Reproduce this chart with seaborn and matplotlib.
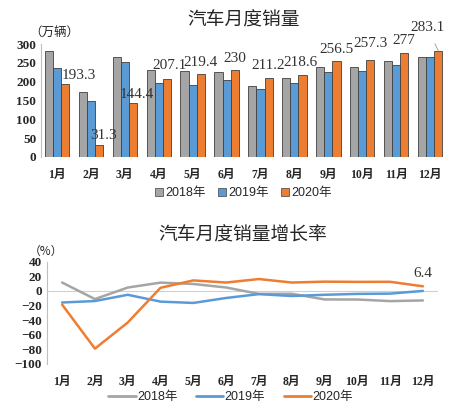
import numpy as np
import pandas as pd
import seaborn as sns
import matplotlib.pyplot as plt
from matplotlib.lines import Line2D
from matplotlib.patches import Patch

months = ['1月', '2月', '3月', '4月', '5月', '6月', '7月', '8月', '9月', '10月', '11月', '12月']
years = ['2018年', '2019年', '2020年']

# monthly sales (10k vehicles)
sales_2018 = [281, 172, 265, 232, 229, 227, 188, 210, 239, 238, 255, 266]
sales_2019 = [237, 148, 252, 198, 191, 206, 181, 196, 227, 229, 245, 265]
sales_2020 = [193.3, 31.3, 144.4, 207.1, 219.4, 230, 211.2, 218.6, 256.5, 257.3, 277, 283.1]
labels_2020 = ['193.3', '31.3', '144.4', '207.1', '219.4', '230', '211.2', '218.6', '256.5', '257.3', '277', '283.1']

# growth rate (%)
growth_2018 = [11.6, -11.1, 4.7, 11.5, 9.6, 4.8, -4.0, -3.8, -11.6, -11.7, -13.9, -13.0]
growth_2019 = [-15.8, -13.8, -5.2, -14.6, -16.4, -9.6, -4.3, -6.9, -5.2, -4.0, -3.6, 0.1]
growth_2020 = [-18.7, -79.1, -43.3, 4.4, 14.5, 11.6, 16.4, 11.6, 12.8, 12.5, 12.6, 6.4]

colors = ['#A5A5A5', '#5B9BD5', '#ED7D31']
palette = dict(zip(years, colors))

sns.set_style('white')
plt.rcParams['font.family'] = ['Liberation Serif', 'Noto Sans CJK SC', 'DejaVu Sans']

sales = pd.DataFrame({
    'month': months * 3,
    'year': np.repeat(years, 12),
    'value': sales_2018 + sales_2019 + sales_2020,
})
growth = pd.DataFrame({
    'month': months * 3,
    'year': np.repeat(years, 12),
    'value': growth_2018 + growth_2019 + growth_2020,
})

fig = plt.figure(figsize=(4.67, 4.13), dpi=100)
ax1 = fig.add_axes([0.088, 0.62, 0.867, 0.273])
ax2 = fig.add_axes([0.1, 0.119, 0.838, 0.247])


def style_axis(ax):
    for s in ['top', 'right', 'bottom']:
        ax.spines[s].set_visible(False)
    ax.spines['left'].set_color('#BFBFBF')
    ax.spines['left'].set_linewidth(0.8)
    ax.set_xlabel('')
    ax.set_ylabel('')
    ax.tick_params(axis='both', length=0)
    ax.tick_params(axis='y', labelsize=9.5)
    ax.tick_params(axis='x', labelsize=8.5, pad=9)
    for t in ax.get_xticklabels() + ax.get_yticklabels():
        t.set_fontweight('bold')


# ---- top: bar chart
sns.barplot(data=sales, x='month', y='value', hue='year', palette=palette, width=0.72,
            edgecolor='#404040', linewidth=0.6, saturation=1, ax=ax1, legend=False)
ax1.set_ylim(0, 300)
ax1.set_xlim(-0.47, 11.47)
ax1.set_yticks(range(0, 301, 50))
style_axis(ax1)
ax1.text(0.5, 1.215, '汽车月度销量', transform=ax1.transAxes, ha='center', va='center',
         fontsize=13.5, family=['Noto Sans CJK SC'])
ax1.text(-0.03, 1.108, '（万辆）', transform=ax1.transAxes, ha='left', va='center', fontsize=9,
         family=['Noto Sans CJK SC'])

# 2020 value labels above the orange bars
offsets = [(10, 6), (3, 7), (3, 6), (2, 10), (0, 8.6), (0, 8.6), (0, 8.6), (-1.5, 9),
           (0, 8), (0, 12), (0, 9), (-8, 16.5)]
bars_2020 = ax1.containers[2]
for bar, lab, (dx, dy) in zip(bars_2020, labels_2020, offsets):
    x = bar.get_x() + bar.get_width() / 2
    y = bar.get_height()
    ax1.annotate(lab, (x, y), xytext=(dx, dy), textcoords='offset points', ha='center',
                 va='center', fontsize=11, color='#333333',
                 arrowprops=dict(arrowstyle='-', color='#999999', lw=0.6, shrinkA=5, shrinkB=0)
                 if dy > 15 else None)

handles = [Patch(facecolor=c, edgecolor='#404040', linewidth=0.5) for c in colors]
ax1.legend(handles, years, loc='upper center', bbox_to_anchor=(0.5, -0.17), ncol=3, frameon=False,
           handlelength=0.6, handleheight=0.6, handletextpad=0.2, columnspacing=1.0,
           prop={'family': ['Liberation Sans', 'Noto Sans CJK SC'], 'size': 9})

# ---- bottom: growth line chart
sns.lineplot(data=growth, x='month', y='value', hue='year', palette=palette, linewidth=1.8,
             sort=False, ax=ax2, legend=False)
ax2.axhline(0, color='#D0D0D0', linewidth=0.8, zorder=0)
ax2.set_ylim(-100, 40)
ax2.set_xlim(-0.47, 11.46)
ax2.set_yticks(range(-100, 41, 20))
style_axis(ax2)
ax2.text(0.5, 1.263, '汽车月度销量增长率', transform=ax2.transAxes, ha='center', va='center',
         fontsize=13.5, family=['Noto Sans CJK SC'])
ax2.text(-0.045, 1.105, '（%）', transform=ax2.transAxes, ha='left', va='center', fontsize=8.5,
         family=['Noto Sans CJK SC'])
ax2.annotate('6.4', (len(months) - 1, growth_2020[-1]), xytext=(0, 9.4), textcoords='offset points',
             ha='center', va='center', fontsize=11, color='#333333')

line_handles = [Line2D([], [], color=c, linewidth=2) for c in colors]
ax2.legend(line_handles, years, loc='upper center', bbox_to_anchor=(0.47, -0.16), ncol=3,
           frameon=False, handlelength=2.2, handletextpad=0.1, columnspacing=1.5,
           prop={'family': ['Liberation Sans', 'Noto Sans CJK SC'], 'size': 9})

fig.savefig('out.png', dpi=100)
